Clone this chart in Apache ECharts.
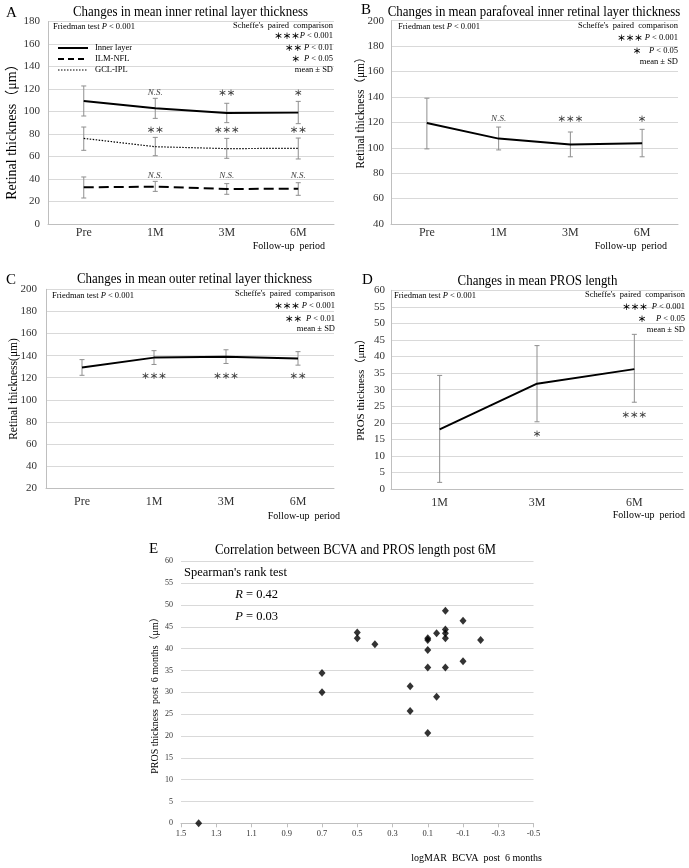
<!DOCTYPE html>
<html><head><meta charset="utf-8">
<script src="https://cdn.jsdelivr.net/npm/echarts@6/dist/echarts.min.js"></script>
<style>html,body{margin:0;padding:0;background:#fff}#c{width:689px;height:868px}</style>
</head><body><div id="c"></div>
<script>
// ---------- DATA ----------
const catsABC = ['Pre', '1M', '3M', '6M'];
const catsD = ['1M', '3M', '6M'];
// Panel A
const innerMean = [109.3, 102.8, 98.7, 99.0];
const innerLow  = [96.0, 93.9, 90.1, 89.2];
const innerHigh = [122.7, 111.7, 107.3, 109.0];
const gclMean = [76.1, 68.7, 67.0, 67.3];
const gclLow  = [65.5, 60.7, 58.4, 57.8];
const gclHigh = [86.2, 77.0, 76.1, 76.4];
const ilmMean = [32.6, 33.2, 31.1, 31.4];
const ilmLow  = [23.1, 29.0, 26.4, 25.5];
const ilmHigh = [41.8, 37.9, 35.9, 36.7];
const sigInner = ['', 'N.S.', '**', '*'];
const sigGcl   = ['', '**', '***', '**'];
const sigIlm   = ['', 'N.S.', 'N.S.', 'N.S.'];
const legendNames = ['Inner layer', 'ILM-NFL', 'GCL-IPL'];
// Panel B
const paraMean = [119.5, 107.2, 102.5, 103.6];
const paraLow  = [99.1, 98.3, 92.9, 92.9];
const paraHigh = [139.0, 116.3, 112.4, 114.5];
const sigPara  = ['', 'N.S.', '***', '*'];
// Panel C
const outerMean = [129.3, 138.2, 139.1, 137.3];
const outerLow  = [122.2, 132.0, 132.9, 131.4];
const outerHigh = [136.4, 144.5, 145.3, 143.6];
const sigOuter  = ['', '***', '***', '**'];
// Panel D
const prosMean = [18.0, 31.8, 36.2];
const prosLow  = [2.0, 20.3, 26.2];
const prosHigh = [34.3, 43.3, 46.7];
const sigPros  = ['', '*', '***'];
// Panel E
const bcva    = [1.4, 0.7, 0.7, 0.5, 0.5, 0.4, 0.2, 0.2, 0.1, 0.1, 0.1, 0.1, 0.1, 0.05, 0.05, 0, 0, 0, 0, 0, -0.1, -0.1, -0.2];
const prosLen = [0, 34.4, 30.0, 43.7, 42.4, 41.0, 31.4, 25.7, 42.4, 42.0, 39.7, 35.7, 20.7, 43.5, 29.0, 48.7, 44.4, 43.5, 42.4, 35.7, 46.4, 37.1, 42.0];
const ticksE  = [1.5, 1.3, 1.1, 0.9, 0.7, 0.5, 0.3, 0.1, -0.1, -0.3, -0.5];

// ---------- STYLE / LAYOUT ----------
const SERIF = '"Liberation Serif", "Noto Sans CJK JP", serif';
const AST = '"Noto Sans CJK JP", sans-serif';
const LBL = '#333';
const GRIDC = '#d9d9d9';
const AXC = '#bfbfbf';
const ERRC = '#8f8f8f';

const grids = [
  {left: 48, top: 21.5, width: 286, height: 202.5},
  {left: 391, top: 20.7, width: 287, height: 203.3},
  {left: 46, top: 289.3, width: 288, height: 199},
  {left: 391, top: 290.3, width: 292, height: 198.7},
  {left: 181, top: 561.3, width: 352.5, height: 262}
].map(g => Object.assign({outerBoundsMode: 'none', containLabel: false}, g));

function catAxis(gi, data, margin) {
  return {type: 'category', gridIndex: gi, data, boundaryGap: true,
    axisLine: {show: true, lineStyle: {color: AXC, width: 1}},
    axisTick: {show: false},
    axisLabel: {color: LBL, fontFamily: SERIF, fontSize: 12, margin},
    splitLine: {show: false}};
}
function valAxis(gi, min, max, interval, margin, lblSize, showLine) {
  return {type: 'value', gridIndex: gi, min, max, interval,
    axisLine: {show: showLine, lineStyle: {color: AXC, width: 1}},
    axisTick: {show: false},
    axisLabel: {color: LBL, fontFamily: SERIF, fontSize: lblSize, margin},
    splitLine: {show: true, lineStyle: {color: GRIDC, width: 1.2}}};
}

function lineSeries(gi, name, data, lineStyle) {
  return {type: 'line', name, xAxisIndex: gi, yAxisIndex: gi, data, symbol: 'none',
    lineStyle: Object.assign({color: '#000'}, lineStyle), itemStyle: {color: '#000'},
    z: 4, silent: true, animation: false};
}
function errSeries(gi, low, high) {
  return {type: 'custom', xAxisIndex: gi, yAxisIndex: gi, silent: true, z: 3, animation: false,
    data: low.map((l, i) => [i, l, high[i]]),
    encode: {x: 0, y: [1, 2]},
    renderItem(params, api) {
      const a = api.coord([api.value(0), api.value(1)]);
      const b = api.coord([api.value(0), api.value(2)]);
      const w = 2.5, st = {stroke: ERRC, lineWidth: 1};
      return {type: 'group', children: [
        {type: 'line', shape: {x1: a[0], y1: a[1], x2: b[0], y2: b[1]}, style: st},
        {type: 'line', shape: {x1: a[0] - w, y1: a[1], x2: a[0] + w, y2: a[1]}, style: st},
        {type: 'line', shape: {x1: b[0] - w, y1: b[1], x2: b[0] + w, y2: b[1]}, style: st}
      ]};
    }};
}
function sigText(t) {
  const ns = t === 'N.S.';
  return {text: ns ? t : t.replace(/\*/g, '＊'),
    font: ns ? 'italic 9px ' + SERIF : 'bold 8.5px ' + AST,
    fill: '#404040', align: 'center', verticalAlign: 'middle',
    textAlign: 'center', textVerticalAlign: 'middle'};
}
function annSeries(gi, texts, levelFn) {
  return {type: 'custom', xAxisIndex: gi, yAxisIndex: gi, silent: true, z: 5, animation: false,
    data: texts.map((t, i) => [i, levelFn(i)]),
    renderItem(params, api) {
      const t = texts[params.dataIndex];
      if (!t) return null;
      const p = api.coord([api.value(0), api.value(1)]);
      return {type: 'text', x: p[0], y: p[1], style: sigText(t)};
    }};
}

const richBase = {
  n: {fontFamily: SERIF, fontSize: 8.5, color: '#000'},
  i: {fontFamily: SERIF, fontSize: 8.5, fontStyle: 'italic', color: '#000'},
  a: {fontFamily: AST, fontSize: 8.5, fontWeight: 'bold', color: '#000'}
};
function richSized(sz) {
  return {n: Object.assign({}, richBase.n, {fontSize: sz}),
          i: Object.assign({}, richBase.i, {fontSize: sz}),
          a: Object.assign({}, richBase.a, {fontSize: sz})};
}
const R85 = richSized(8.5);
const R12 = richSized(12.5);
function T(x, y, text, size, opt) {
  opt = opt || {};
  const align = opt.align || 'left';
  const st = {text, fill: opt.color || '#000', align, verticalAlign: 'middle',
    textAlign: align, textVerticalAlign: 'middle',
    font: (opt.italic ? 'italic ' : '') + size + 'px ' + SERIF};
  if (opt.rich) st.rich = opt.rich;
  const el = {type: 'text', x, y, scaleX: opt.sx || 1, silent: true, z: 10, style: st};
  if (opt.rot) el.rotation = opt.rot;
  return el;
}
const V = Math.PI / 2;

// legend sample lines (legend key, not data)
function legendLine(y, width, dash) {
  return {type: 'line', silent: true, z: 10,
    shape: {x1: 58, y1: y, x2: 88, y2: y},
    style: {stroke: '#000', lineWidth: width, lineDash: dash || null}};
}

const graphics = [
  // panel letters
  T(6, 13, 'A', 15), T(361, 10, 'B', 15), T(6, 280, 'C', 15), T(362, 280, 'D', 15), T(149, 549, 'E', 15),
  // titles
  T(190.5, 12, 'Changes in mean inner retinal layer thickness', 15, {align: 'center', sx: 0.86}),
  T(534, 12, 'Changes in mean parafoveal inner retinal layer thickness', 15, {align: 'center', sx: 0.86}),
  T(194.5, 279, 'Changes in mean outer retinal layer thickness', 15, {align: 'center', sx: 0.86}),
  T(537.5, 281, 'Changes in mean PROS length', 15, {align: 'center', sx: 0.86}),
  T(355.5, 550, 'Correlation between BCVA and PROS length post 6M', 15, {align: 'center', sx: 0.86}),
  // y axis names
  T(12, 128.5, 'Retinal thickness（μm）', 14, {align: 'center', rot: V}),
  T(361, 110, 'Retinal thickness（μm）', 11.5, {align: 'center', rot: V}),
  T(14, 389, 'Retinal thickness(μm)', 11.5, {align: 'center', rot: V}),
  T(361, 387, 'PROS thickness（μm）', 11, {align: 'center', rot: V}),
  T(155, 693, 'PROS thickness  post  6 months（μm）', 10, {align: 'center', rot: V}),
  // Panel A legend
  legendLine(48, 2), legendLine(59, 2, [6, 4]), legendLine(70, 1.2, [1.5, 1.5]),
  T(95, 48, legendNames[0], 8.5), T(95, 59, legendNames[1], 8.5), T(95, 70, legendNames[2], 8.5),
  // Panel A stats
  T(53, 27, '{n|Friedman test }{i|P}{n| < 0.001}', 8.5, {rich: R85}),
  T(333, 26, "Scheffe's  paired  comparison", 8.5, {align: 'right'}),
  T(333, 36, '{a|＊＊＊}{i|P}{n| < 0.001}', 8.5, {align: 'right', rich: R85}),
  T(333, 48, '{a|＊＊ }{i|P}{n| < 0.01}', 8.5, {align: 'right', rich: R85}),
  T(333, 59, '{a|＊  }{i|P}{n| < 0.05}', 8.5, {align: 'right', rich: R85}),
  T(333, 70, 'mean ± SD', 8.5, {align: 'right'}),
  // Panel B stats
  T(398, 27, '{n|Friedman test }{i|P}{n| < 0.001}', 8.5, {rich: R85}),
  T(678, 26, "Scheffe's  paired  comparison", 8.5, {align: 'right'}),
  T(678, 38, '{a|＊＊＊ }{i|P}{n| < 0.001}', 8.5, {align: 'right', rich: R85}),
  T(678, 51, '{a|＊    }{i|P}{n| < 0.05}', 8.5, {align: 'right', rich: R85}),
  T(678, 62, 'mean ± SD', 8.5, {align: 'right'}),
  // Panel C stats
  T(52, 296, '{n|Friedman test }{i|P}{n| < 0.001}', 8.5, {rich: R85}),
  T(335, 293.5, "Scheffe's  paired  comparison", 8.5, {align: 'right'}),
  T(335, 306, '{a|＊＊＊ }{i|P}{n| < 0.001}', 8.5, {align: 'right', rich: R85}),
  T(335, 318.5, '{a|＊＊  }{i|P}{n| < 0.01}', 8.5, {align: 'right', rich: R85}),
  T(335, 328.5, 'mean ± SD', 8.5, {align: 'right'}),
  // Panel D stats
  T(394, 296, '{n|Friedman test }{i|P}{n| < 0.001}', 8.5, {rich: R85}),
  T(685, 294.5, "Scheffe's  paired  comparison", 8.5, {align: 'right'}),
  T(685, 307, '{a|＊＊＊  }{i|P}{n| < 0.001}', 8.5, {align: 'right', rich: R85}),
  T(685, 318.5, '{a|＊     }{i|P}{n| < 0.05}', 8.5, {align: 'right', rich: R85}),
  T(685, 330, 'mean ± SD', 8.5, {align: 'right'}),
  // x axis names
  T(325, 246.7, 'Follow-up  period', 10, {align: 'right'}),
  T(667, 246.7, 'Follow-up  period', 10, {align: 'right'}),
  T(340, 516, 'Follow-up  period', 10, {align: 'right'}),
  T(685, 515, 'Follow-up  period', 10, {align: 'right'}),
  T(542, 858, 'logMAR  BCVA  post  6 months', 10, {align: 'right'}),
  // Panel E stats
  T(184, 573, "Spearman's rank test", 12.5),
  T(278, 595, '{i|R}{n| = 0.42}', 12.5, {align: 'right', rich: R12}),
  T(278, 617, '{i|P}{n| = 0.03}', 12.5, {align: 'right', rich: R12})
];

const option = {
  backgroundColor: '#fff',
  animation: false,
  grid: grids,
  xAxis: [
    catAxis(0, catsABC, 3),
    catAxis(1, catsABC, 3),
    catAxis(2, catsABC, 8),
    catAxis(3, catsD, 8),
    {type: 'value', gridIndex: 4, inverse: true, min: -0.5, max: 1.5,
      axisLine: {show: true, lineStyle: {color: AXC, width: 1}},
      axisTick: {show: true, customValues: ticksE, length: 4, lineStyle: {color: AXC}},
      axisLabel: {customValues: ticksE, color: LBL, fontFamily: SERIF, fontSize: 8.5, margin: 6,
        formatter: v => (Math.round(v * 10) / 10).toFixed(1)},
      splitLine: {show: false}}
  ],
  yAxis: [
    valAxis(0, 0, 180, 20, 8, 11, true),
    valAxis(1, 40, 200, 20, 7, 11, true),
    valAxis(2, 20, 200, 20, 9, 11, true),
    valAxis(3, 0, 60, 5, 6, 11, true),
    valAxis(4, 0, 60, 5, 8, 8, false)
  ],
  series: [
    // A
    errSeries(0, innerLow, innerHigh),
    errSeries(0, gclLow, gclHigh),
    errSeries(0, ilmLow, ilmHigh),
    lineSeries(0, legendNames[0], innerMean, {width: 2}),
    lineSeries(0, legendNames[1], ilmMean, {width: 2, type: [10, 5]}),
    lineSeries(0, legendNames[2], gclMean, {width: 1.2, type: [1.5, 1.5]}),
    annSeries(0, sigInner, () => 116.4),
    annSeries(0, sigGcl, () => 83.8),
    annSeries(0, sigIlm, () => 42.9),
    // B
    errSeries(1, paraLow, paraHigh),
    lineSeries(1, 'Parafoveal inner', paraMean, {width: 2}),
    annSeries(1, sigPara, () => 123),
    // C
    errSeries(2, outerLow, outerHigh),
    lineSeries(2, 'Outer', outerMean, {width: 2}),
    annSeries(2, sigOuter, () => 121.5),
    // D
    errSeries(3, prosLow, prosHigh),
    lineSeries(3, 'PROS', prosMean, {width: 2}),
    annSeries(3, sigPros, i => (i === 1 ? 16.8 : 22.3)),
    // E
    {type: 'scatter', xAxisIndex: 4, yAxisIndex: 4, symbol: 'diamond', symbolSize: [7, 8],
      itemStyle: {color: '#000'}, silent: true, animation: false,
      data: bcva.map((x, i) => [x, prosLen[i]])}
  ],
  graphic: graphics
};

const chart = echarts.init(document.getElementById('c'), null, {renderer: 'canvas'});
chart.setOption(option);
</script>
</body></html>
